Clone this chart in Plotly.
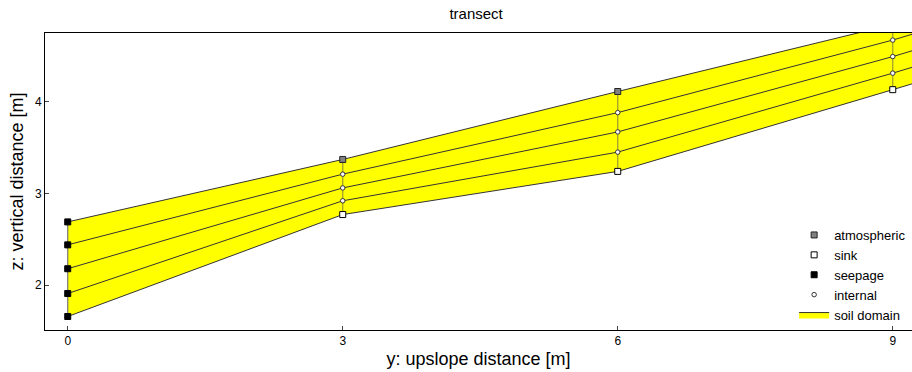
import plotly.graph_objects as go

# column positions (y: upslope distance)
y_cols = [0, 3, 6, 9, 12]
# node z values per layer (top -> bottom)
z_row0 = [2.69, 3.37, 4.11, 4.84, 5.74]
z_row1 = [2.44, 3.21, 3.88, 4.67, 5.57]
z_row2 = [2.18, 3.06, 3.67, 4.49, 5.39]
z_row3 = [1.91, 2.92, 3.45, 4.31, 5.21]
z_row4 = [1.66, 2.77, 3.24, 4.13, 5.03]
rows = [z_row0, z_row1, z_row2, z_row3, z_row4]

x_ticks = [0, 3, 6, 9]
y_ticks = [2, 3, 4]

FONT = "Liberation Sans, Arial, sans-serif"
fig = go.Figure()

# soil domain polygon
poly_x = y_cols + y_cols[::-1]
poly_y = z_row0 + z_row4[::-1]
fig.add_trace(go.Scatter(x=poly_x, y=poly_y, fill="toself", fillcolor="#ffff00",
                         mode="lines", line=dict(color="#333333", width=1),
                         name="soil domain", legendrank=1005))

# layer lines
for r in rows[1:4]:
    fig.add_trace(go.Scatter(x=y_cols, y=r, mode="lines",
                             line=dict(color="#333333", width=1), showlegend=False,
                             hoverinfo="skip"))

# vertical column lines
for i, yc in enumerate(y_cols):
    col = "#777777" if i == 0 else "#9a9a33"
    fig.add_trace(go.Scatter(x=[yc] * 5, y=[r[i] for r in rows], mode="lines",
                             line=dict(color=col, width=1.2), showlegend=False,
                             hoverinfo="skip"))

# seepage nodes (column 0)
seep_x = [y_cols[0]] * 5
seep_y = [r[0] for r in rows]
# atmospheric (top, other columns)
atm_x = y_cols[1:]
atm_y = z_row0[1:]
# sink (bottom, other columns)
sink_x = y_cols[1:]
sink_y = z_row4[1:]
# internal
int_x = [y_cols[i] for i in range(1, len(y_cols)) for _ in range(3)]
int_y = [rows[k][i] for i in range(1, len(y_cols)) for k in range(1, 4)]

fig.add_trace(go.Scatter(x=atm_x, y=atm_y, mode="markers", name="atmospheric",
                         marker=dict(symbol="square", size=6, color="#808080",
                                     line=dict(color="#222222", width=1)),
                         legendrank=1001))
fig.add_trace(go.Scatter(x=sink_x, y=sink_y, mode="markers", name="sink",
                         marker=dict(symbol="square", size=6, color="white",
                                     line=dict(color="black", width=1)),
                         legendrank=1002))
fig.add_trace(go.Scatter(x=seep_x, y=seep_y, mode="markers", name="seepage",
                         marker=dict(symbol="square", size=6, color="black",
                                     line=dict(color="black", width=1)),
                         legendrank=1003))
fig.add_trace(go.Scatter(x=int_x, y=int_y, mode="markers", name="internal",
                         marker=dict(symbol="circle", size=4.5, color="white",
                                     line=dict(color="#333333", width=1)),
                         legendrank=1004))

fig.update_layout(
    width=912, height=372,
    margin=dict(l=45, r=0, t=33, b=42),
    paper_bgcolor="white", plot_bgcolor="white",
    font=dict(family=FONT, size=12, color="black"),
    title=dict(text="transect", x=0.522, xanchor="center", y=0.963, yanchor="middle",
               font=dict(size=15, family=FONT)),
    showlegend=True,
    legend=dict(x=0.999, xanchor="right", y=0.0, yanchor="bottom",
                bgcolor="rgba(255,255,255,0)", borderwidth=0,
                font=dict(size=13, family=FONT), tracegroupgap=0,
                itemwidth=30),
    xaxis=dict(range=[-0.248, 9.21], tickvals=x_ticks, ticks="inside", ticklen=4,
               showline=True, mirror=True, linecolor="black", linewidth=1,
               showgrid=False, zeroline=False,
               title=dict(text="y: upslope distance [m]", font=dict(size=18, family=FONT),
                          standoff=4),
               tickfont=dict(size=12)),
    yaxis=dict(range=[1.513, 4.747], tickvals=y_ticks, ticks="inside", ticklen=4,
               showline=True, mirror=False, linecolor="black", linewidth=1,
               showgrid=False, zeroline=False,
               title=dict(text="z: vertical distance [m]", font=dict(size=18, family=FONT),
                          standoff=6),
               tickfont=dict(size=12)),
)

fig.write_html("out.html")
